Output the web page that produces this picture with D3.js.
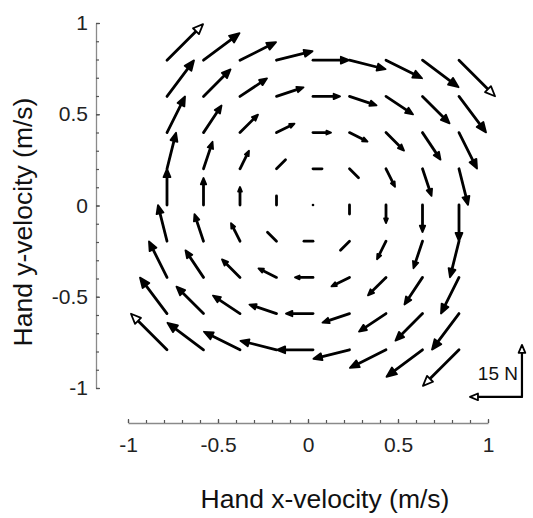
<!DOCTYPE html>
<html>
<head>
<meta charset="utf-8">
<script src="https://cdn.jsdelivr.net/npm/d3@7"></script>
<style>
  body { margin: 0; background: #fff; }
  svg { font-family: "Liberation Sans", Arial, sans-serif; }
</style>
</head>
<body>
<div class="quiver-chart"></div>
<script>
// grid of hand velocities (m/s)
const velX = [-0.8, -0.6, -0.4, -0.2, 0, 0.2, 0.4, 0.6, 0.8];
const velY = [0.8, 0.6, 0.4, 0.2, 0, -0.2, -0.4, -0.6, -0.8];

// force components (N), one row per velY, one column per velX
const forceX = [
    [10.4, 10.4, 10.4, 10.4, 10.4, 10.4, 10.4, 10.4, 10.4],
    [7.8, 7.8, 7.8, 7.8, 7.8, 7.8, 7.8, 7.8, 7.8],
    [5.2, 5.2, 5.2, 5.2, 5.2, 5.2, 5.2, 5.2, 5.2],
    [2.6, 2.6, 2.6, 2.6, 2.6, 2.6, 2.6, 2.6, 2.6],
    [0, 0, 0, 0, 0, 0, 0, 0, 0],
    [-2.6, -2.6, -2.6, -2.6, -2.6, -2.6, -2.6, -2.6, -2.6],
    [-5.2, -5.2, -5.2, -5.2, -5.2, -5.2, -5.2, -5.2, -5.2],
    [-7.8, -7.8, -7.8, -7.8, -7.8, -7.8, -7.8, -7.8, -7.8],
    [-10.4, -10.4, -10.4, -10.4, -10.4, -10.4, -10.4, -10.4, -10.4]
];
const forceY = [
    [10.4, 7.8, 5.2, 2.6, 0, -2.6, -5.2, -7.8, -10.4],
    [10.4, 7.8, 5.2, 2.6, 0, -2.6, -5.2, -7.8, -10.4],
    [10.4, 7.8, 5.2, 2.6, 0, -2.6, -5.2, -7.8, -10.4],
    [10.4, 7.8, 5.2, 2.6, 0, -2.6, -5.2, -7.8, -10.4],
    [10.4, 7.8, 5.2, 2.6, 0, -2.6, -5.2, -7.8, -10.4],
    [10.4, 7.8, 5.2, 2.6, 0, -2.6, -5.2, -7.8, -10.4],
    [10.4, 7.8, 5.2, 2.6, 0, -2.6, -5.2, -7.8, -10.4],
    [10.4, 7.8, 5.2, 2.6, 0, -2.6, -5.2, -7.8, -10.4],
    [10.4, 7.8, 5.2, 2.6, 0, -2.6, -5.2, -7.8, -10.4]
];

const majorTicks = [-1, -0.5, 0, 0.5, 1];
const minorTicks = d3.range(-10, 11).map(d => d / 10);
const scaleForce = 15; // N, for the scale bar

const width = 533, height = 518;

const svg = d3.select(".quiver-chart")
    .append("svg")
    .attr("width", width)
    .attr("height", height);

// axis scales
const x = d3.scaleLinear().domain([-1, 1]).range([128, 488]);
const y = d3.scaleLinear().domain([-1, 1]).range([388, 23]);

// the arrow panel sits a little offset from the axes in the original
const xq = d3.scaleLinear().domain([-1, 1]).range([130.5, 495.5]);
const yq = d3.scaleLinear().domain([-1, 1]).range([386, 24]);
const fs = d3.scaleLinear().domain([0, 15]).range([0, 52]);

// plain hyphen for negatives, like the original
const fmt = d => String(d);

function styleAxis(g) {
    g.select(".domain").attr("stroke", "#8a8a8a").attr("stroke-width", 1.3);
    g.selectAll(".tick line").attr("stroke", "#555").attr("stroke-width", 1.2);
    g.selectAll(".tick text").attr("fill", "#222").style("font-size", "21px");
}

// y axis: ticks point right, labels on the left
svg.append("g")
    .attr("transform", "translate(96,0)")
    .call(d3.axisLeft(y).tickValues(minorTicks).tickSizeInner(-3).tickSizeOuter(0).tickFormat(""))
    .call(styleAxis);
svg.append("g")
    .attr("transform", "translate(96,0)")
    .call(d3.axisLeft(y).tickValues(majorTicks).tickSizeInner(-4).tickSizeOuter(0).tickPadding(8).tickFormat(fmt))
    .call(styleAxis)
    .call(g => g.select(".domain").remove());

// x axis: ticks point up
svg.append("g")
    .attr("transform", "translate(0,423)")
    .call(d3.axisBottom(x).tickValues(minorTicks).tickSizeInner(-3).tickSizeOuter(0).tickFormat(""))
    .call(styleAxis);
svg.append("g")
    .attr("transform", "translate(0,423)")
    .call(d3.axisBottom(x).tickValues(majorTicks).tickSizeInner(-4).tickSizeOuter(0).tickPadding(14).tickFormat(fmt))
    .call(styleAxis)
    .call(g => g.select(".domain").remove());

// axis titles
svg.append("text")
    .attr("x", 325)
    .attr("y", 508)
    .attr("text-anchor", "middle")
    .style("font-size", "26.5px")
    .attr("fill", "#111")
    .text("Hand x-velocity (m/s)");

svg.append("text")
    .attr("transform", "translate(32,222) rotate(-90)")
    .attr("text-anchor", "middle")
    .style("font-size", "26.5px")
    .attr("fill", "#111")
    .text("Hand y-velocity (m/s)");

// build arrow list
const arrows = [];
velY.forEach((vy, i) => {
    velX.forEach((vx, j) => {
        arrows.push({ vx, vy, fx: forceX[i][j], fy: forceY[i][j] });
    });
});

function drawArrow(g, x0, y0, dx, dy, opts = {}) {
    const len = Math.hypot(dx, dy);
    if (len < 0.5) {
        g.append("circle").attr("cx", x0).attr("cy", y0).attr("r", 1.3).attr("fill", "#000");
        return;
    }
    const ux = dx / len, uy = dy / len;
    const hl = opts.head || (len < 16 ? 0 : Math.min(10, 0.2 * len + 1));
    const hw = hl * 0.42;
    const x1 = x0 + dx, y1 = y0 + dy;
    g.append("line")
        .attr("x1", x0).attr("y1", y0)
        .attr("x2", x1 - ux * hl * 0.6).attr("y2", y1 - uy * hl * 0.6)
        .attr("stroke", "#000")
        .attr("stroke-width", opts.width || 2.8)
        .attr("stroke-linecap", "round");
    if (hl > 0) {
        const bx = x1 - ux * hl, by = y1 - uy * hl;
        const pts = [
            [x1, y1],
            [bx - uy * hw, by + ux * hw],
            [bx + uy * hw, by - ux * hw]
        ];
        g.append("polygon")
            .attr("points", pts.map(p => p.join(",")).join(" "))
            .attr("fill", opts.open || len > 48 ? "#fff" : "#000")
            .attr("stroke", "#000")
            .attr("stroke-width", 1.8)
            .attr("stroke-linejoin", "round");
    }
}

const arrowG = svg.append("g");
arrows.forEach(d => {
    drawArrow(arrowG, xq(d.vx), yq(d.vy), fs(d.fx), -fs(d.fy));
});

// 15 N scale bar
const legG = svg.append("g");
const cx = xq(1.145), cy = yq(-1.06);
drawArrow(legG, cx, cy, 0, -fs(scaleForce), { head: 8, width: 2.2, open: true });
drawArrow(legG, cx, cy, -fs(scaleForce), 0, { head: 8, width: 2.2, open: true });
legG.append("text")
    .attr("x", cx - 4)
    .attr("y", cy - 17)
    .attr("text-anchor", "end")
    .style("font-size", "19px")
    .attr("fill", "#111")
    .text(scaleForce + " N");
</script>
</body>
</html>
